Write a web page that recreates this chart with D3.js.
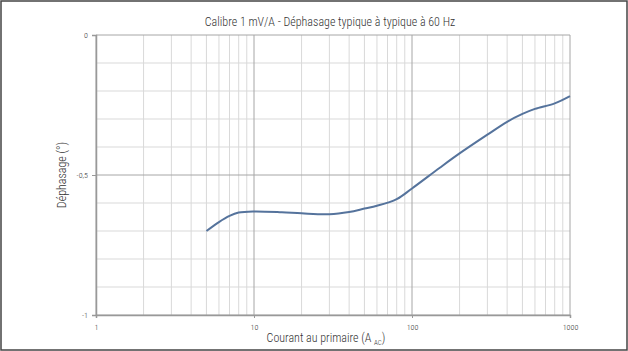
<!DOCTYPE html>
<html><head><meta charset="utf-8">
<script src="https://cdn.jsdelivr.net/npm/d3@7"></script>
<style>
html,body{margin:0;padding:0;background:#fff;}
svg text{font-family:"Roboto Condensed","Arial Narrow","Liberation Sans",sans-serif;font-weight:300;fill:#333;}
</style></head>
<body>
<svg id="chart" width="628" height="351"></svg>
<script>
// Primary current (A AC) and typical phase shift (degrees)
const current = [5, 6, 7, 8, 10, 15, 20, 30, 40, 50, 60, 80, 100, 150, 200, 300, 400, 500, 600, 800, 1000];
const phase = [-0.700, -0.668, -0.646, -0.634, -0.630, -0.633, -0.637, -0.640, -0.632, -0.620, -0.610, -0.586, -0.548, -0.474, -0.423, -0.356, -0.310, -0.282, -0.264, -0.244, -0.218];
const xTicks = [1, 10, 100, 1000];
const yTicks = [0, -0.5, -1];
const title = "Calibre 1 mV/A - Déphasage typique à typique à 60 Hz";

const svg = d3.select("#chart");
const W = 628, H = 351;
const m = {left: 96, right: 58, top: 35, bottom: 36};

svg.append("rect").attr("x", 1).attr("y", 1).attr("width", W - 2).attr("height", H - 2)
  .attr("fill", "#fff").attr("stroke", "#444").attr("stroke-width", 1.5);

const x = d3.scaleLog().domain([1, 1000]).range([m.left, W - m.right]);
const y = d3.scaleLinear().domain([-1, 0]).range([H - m.bottom, m.top]);

// minor vertical grid (2..9 per decade)
const minorX = [];
[1, 10, 100].forEach(d => { for (let k = 2; k <= 9; k++) minorX.push(d * k); });
svg.append("g").selectAll("line").data(minorX).join("line")
  .attr("x1", d => x(d)).attr("x2", d => x(d)).attr("y1", y(0)).attr("y2", y(-1))
  .attr("stroke", "#d9d9d9").attr("stroke-width", 1);

// minor horizontal grid (0.1 steps)
const minorY = d3.range(1, 10).map(i => -i / 10).filter(v => Math.abs(v + 0.5) > 1e-6);
svg.append("g").selectAll("line").data(minorY).join("line")
  .attr("x1", x(1)).attr("x2", x(1000)).attr("y1", d => y(d)).attr("y2", d => y(d))
  .attr("stroke", "#d9d9d9").attr("stroke-width", 1);

// major grid
svg.append("g").selectAll("line").data(xTicks).join("line")
  .attr("x1", d => x(d)).attr("x2", d => x(d)).attr("y1", y(0)).attr("y2", y(-1))
  .attr("stroke", "#a6a6a6").attr("stroke-width", 1);
svg.append("g").selectAll("line").data(yTicks).join("line")
  .attr("x1", x(1)).attr("x2", x(1000)).attr("y1", d => y(d)).attr("y2", d => y(d))
  .attr("stroke", "#a6a6a6").attr("stroke-width", 1);

// axes
const yAxis = d3.axisLeft(y).tickValues(yTicks).tickSize(4).tickPadding(4)
  .tickFormat(d => d === 0 ? "0" : String(d).replace(".", ","));
const gy = svg.append("g").attr("transform", `translate(${x(1)},0)`).call(yAxis);
gy.select(".domain").attr("stroke", "#999").attr("stroke-width", 1.5);
gy.selectAll(".tick line").attr("stroke", "#999");
gy.selectAll("text").attr("font-size", 8).attr("font-weight", 400).attr("fill", "#333");

const xAxis = d3.axisBottom(x).tickValues(xTicks).tickSize(3).tickPadding(6).tickFormat(d3.format("d"));
const gx = svg.append("g").attr("transform", `translate(0,${y(-1)})`).call(xAxis);
gx.select(".domain").attr("stroke", "#999").attr("stroke-width", 1.5);
gx.selectAll(".tick line").attr("stroke", "#999");
gx.selectAll("text").attr("font-size", 8).attr("font-weight", 400).attr("fill", "#333");

// series line
const line = d3.line().x((d, i) => x(current[i])).y(d => y(d)).curve(d3.curveCatmullRom.alpha(0.5));
svg.append("path").datum(phase).attr("d", line)
  .attr("fill", "none").attr("stroke", "#55739c").attr("stroke-width", 2);

// titles
svg.append("text").attr("x", 330).attr("y", 26).attr("text-anchor", "middle")
  .attr("font-size", 12).text(title);

const xt = svg.append("text").attr("x", 326).attr("y", 342).attr("text-anchor", "middle").attr("font-size", 12);
xt.append("tspan").text("Courant au primaire (A ");
xt.append("tspan").attr("font-size", 7).attr("dy", 3).text("AC");
xt.append("tspan").attr("dy", -3).text(")");

svg.append("text").attr("transform", `translate(66,${y(-0.5)}) rotate(-90)`)
  .attr("text-anchor", "middle").attr("font-size", 12).text("Déphasage (°)");
</script>
</body></html>
